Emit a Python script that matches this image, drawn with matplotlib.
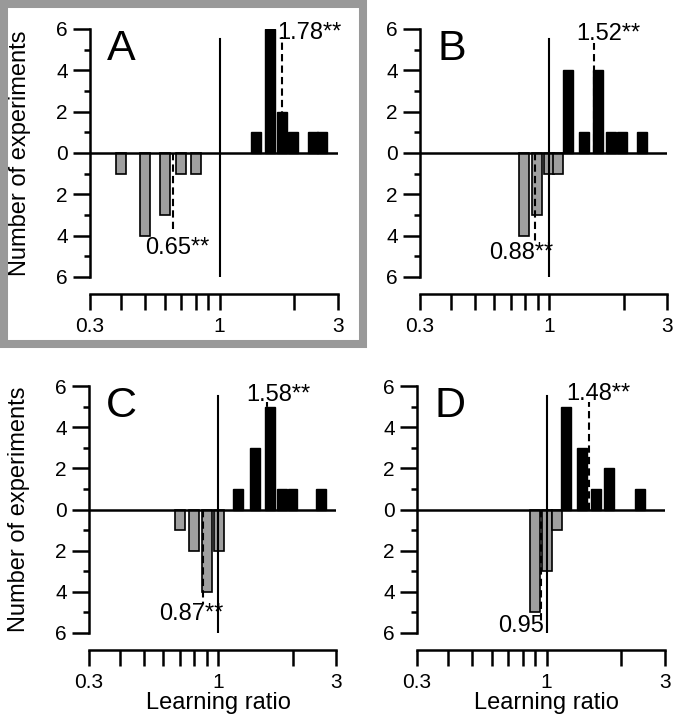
import numpy as np
import matplotlib
matplotlib.use('Agg')
import matplotlib.pyplot as plt
from matplotlib.patches import Rectangle
from matplotlib.ticker import FixedLocator, NullFormatter
from matplotlib.transforms import blended_transform_factory

plt.rcParams['font.family'] = ['Liberation Sans', 'DejaVu Sans']

# ---- data ----
panels = ['A', 'B', 'C', 'D']

# bars above zero: ratio > 1 (black)
up_x = {
    'A': [1.40, 1.60, 1.78, 1.97, 2.38, 2.59],
    'B': [1.19, 1.38, 1.58, 1.78, 1.97, 2.38],
    'C': [1.20, 1.41, 1.62, 1.81, 2.00, 2.60],
    'D': [1.20, 1.39, 1.58, 1.78, 2.38],
}
up_n = {
    'A': [1, 6, 2, 1, 1, 1],
    'B': [4, 1, 4, 1, 1, 1],
    'C': [1, 3, 5, 1, 1, 1],
    'D': [5, 3, 1, 2, 1],
}
# bars below zero: gray
down_x = {
    'A': [0.40, 0.50, 0.60, 0.70, 0.80],
    'B': [0.79, 0.89, 1.00, 1.09],
    'C': [0.70, 0.80, 0.90, 1.01],
    'D': [0.90, 1.00, 1.10],
}
down_n = {
    'A': [1, 4, 3, 1, 1],
    'B': [4, 3, 1, 1],
    'C': [1, 2, 4, 2],
    'D': [5, 3, 1],
}
# mean ratios and their labels
mean_up = {'A': 1.78, 'B': 1.52, 'C': 1.58, 'D': 1.48}
mean_down = {'A': 0.65, 'B': 0.88, 'C': 0.87, 'D': 0.95}
label_up = {'A': '1.78**', 'B': '1.52**', 'C': '1.58**', 'D': '1.48**'}
label_down = {'A': '0.65**', 'B': '0.88**', 'C': '0.87**', 'D': '0.95'}

yticks = [-6, -4, -2, 0, 2, 4, 6]
ytick_labels = ['6', '4', '2', '0', '2', '4', '6']
xticks = [0.3, 1, 3]
xtick_labels = ['0.3', '1', '3']
xminor = [0.4, 0.5, 0.6, 0.7, 0.8, 0.9, 2]

# ---- layout / style ----
W, H = 673, 719
boxes = {  # left, top, right, bottom in pixels
    'A': (90, 29, 338, 277),
    'B': (420, 29, 667, 277),
    'C': (89, 386, 336, 633),
    'D': (417, 386, 665, 633),
}
# where the dashed lines end and the labels sit
dash_up_end = {'A': 5.6, 'B': 5.3, 'C': 5.2, 'D': 5.2}
dash_down_end = {'A': -3.7, 'B': -4.35, 'C': -4.6, 'D': -5.6}
lab_up_pos = {'A': (2.29, 5.8), 'B': (1.74, 5.76), 'C': (1.76, 5.56), 'D': (1.62, 5.6)}
lab_down_pos = {'A': (0.675, -4.6), 'B': (0.77, -4.84), 'C': (0.78, -5.08), 'D': (0.79, -5.66)}

half = 10 ** 0.02  # half bar width in log space
gray = '#9f9f9f'

fig = plt.figure(figsize=(W / 100, H / 100), dpi=100)

for p in panels:
    l, t, r, b = boxes[p]
    ax = fig.add_axes([l / W, 1 - b / H, (r - l) / W, (b - t) / H])
    ax.set_xscale('log')
    ax.set_xlim(0.3, 3)
    ax.set_ylim(-6, 6)

    ux = np.array(up_x[p])
    ax.bar(ux / half, up_n[p], width=ux * half - ux / half, align='edge',
           color='black', edgecolor='black', lw=1, zorder=2)
    dx = np.array(down_x[p])
    ax.bar(dx / half, -np.array(down_n[p]), width=dx * half - dx / half,
           align='edge', color=gray, edgecolor='black', lw=1.2, zorder=2)

    ax.axhline(0, color='black', lw=1.8, zorder=3)
    ax.plot([1, 1], [-6, 5.5], color='black', lw=1.5, zorder=4)
    ax.plot([mean_up[p]] * 2, [0, dash_up_end[p]], color='black', lw=1.5,
            ls=(0, (3.5, 2)), zorder=4)
    ax.plot([mean_down[p]] * 2, [0, dash_down_end[p]], color='black', lw=1.5,
            ls=(0, (3.5, 2)), zorder=4)

    ax.text(*lab_up_pos[p], label_up[p], fontsize=17, ha='center', va='center', zorder=5)
    ax.text(*lab_down_pos[p], label_down[p], fontsize=17, ha='center', va='center', zorder=5)
    ax.text(0.07, 1.0, p, fontsize=31, ha='left', va='top', transform=ax.transAxes)

    for s in ['top', 'right']:
        ax.spines[s].set_visible(False)
    ax.spines['left'].set_linewidth(1.8)
    ax.spines['bottom'].set_linewidth(1.8)
    ax.spines['bottom'].set_position(('outward', 12))

    ax.yaxis.set_major_locator(FixedLocator(yticks))
    ax.set_yticklabels(ytick_labels)
    ax.yaxis.set_minor_locator(FixedLocator([-5, -3, -1, 1, 3, 5]))
    ax.xaxis.set_major_locator(FixedLocator(xticks))
    ax.set_xticklabels(xtick_labels)
    ax.xaxis.set_minor_locator(FixedLocator(xminor))
    ax.xaxis.set_minor_formatter(NullFormatter())

    ax.tick_params(axis='y', which='major', length=12, width=1.8, labelsize=15, pad=4)
    ax.tick_params(axis='y', which='minor', length=4.5, width=1.8)
    ax.tick_params(axis='x', which='both', length=11.5, width=1.8, labelsize=15, pad=5)

    if p in ('A', 'C'):
        ax.set_ylabel('Number of experiments', fontsize=17)
        ax.yaxis.set_label_coords(-0.238, 0.5)
    if p in ('C', 'D'):
        tr = blended_transform_factory(ax.transData, ax.transAxes)
        ax.text(1, -0.283, 'Learning ratio', fontsize=17, ha='center', va='center', transform=tr)

# gray frame around panel A
fig.patches.append(Rectangle((4 / W, 1 - 344 / H), 359 / W, 340 / H,
                             transform=fig.transFigure, fill=False,
                             edgecolor='#999999', lw=5.8))

fig.savefig('out.png', dpi=100)
